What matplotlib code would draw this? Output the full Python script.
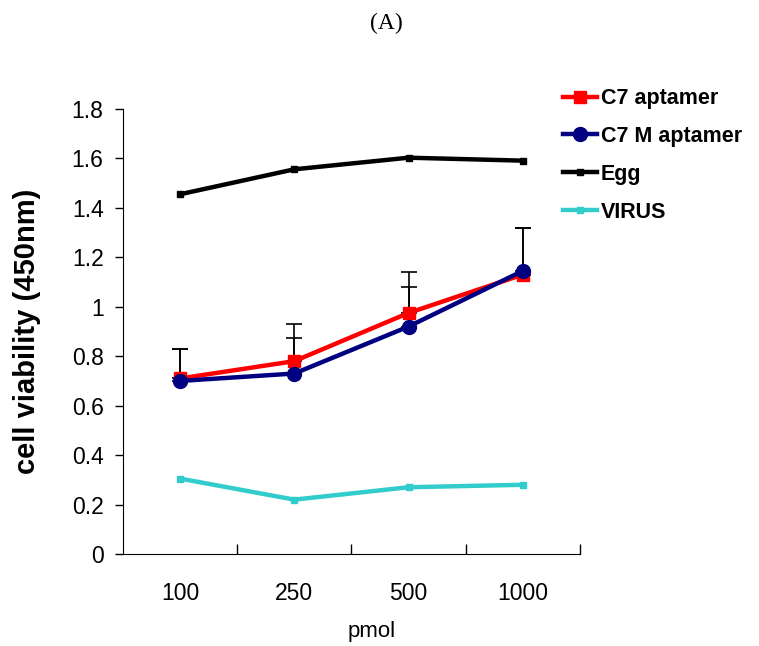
import matplotlib
matplotlib.use("Agg")
import matplotlib.pyplot as plt
import numpy as np

categories = ["100", "250", "500", "1000"]
c7 = [0.71, 0.78, 0.975, 1.13]
c7_err = [0.12, 0.15, 0.164, 0.19]
c7m = [0.70, 0.73, 0.92, 1.145]
c7m_err = [0.13, 0.144, 0.16, 0.175]
egg = [1.455, 1.556, 1.603, 1.591]
virus = [0.305, 0.22, 0.27, 0.28]

plt.rcParams["font.family"] = ["Liberation Sans", "DejaVu Sans"]

fig = plt.figure(figsize=(7.59, 6.46), dpi=100)
ax = fig.add_axes([0.162, 0.1424, 0.602, 0.6889])

x = np.arange(len(categories))

ax.errorbar(x, c7, yerr=[np.zeros(4), c7_err], fmt="none", ecolor="black",
            elinewidth=1.2, capsize=6, capthick=1.2, zorder=2)
ax.errorbar(x, c7m, yerr=[np.zeros(4), c7m_err], fmt="none", ecolor="black",
            elinewidth=1.2, capsize=6, capthick=1.2, zorder=2)

ax.plot(x, c7, color="#ff0000", lw=3.2, marker="s", ms=9, label="C7 aptamer", zorder=3)
ax.plot(x, c7m, color="#000080", lw=3.2, marker="o", ms=10, label="C7 M aptamer", zorder=4)
ax.plot(x, egg, color="black", lw=3.2, marker="s", ms=4, label="Egg", zorder=3)
ax.plot(x, virus, color="#33cccc", lw=3.2, marker="s", ms=4, label="VIRUS", zorder=3)

ax.set_xlim(-0.5, 3.5)
ax.set_ylim(0, 1.8)
ax.set_yticks(np.arange(0, 1.81, 0.2))
ax.set_yticklabels(["0", "0.2", "0.4", "0.6", "0.8", "1", "1.2", "1.4", "1.6", "1.8"])
ax.set_xticks([0.5, 1.5, 2.5, 3.5])
ax.set_xticklabels([])
ax.set_xticks(x, minor=True)
ax.set_xticklabels(categories, minor=True)
ax.tick_params(axis="x", which="major", direction="in", length=7, width=1)
ax.tick_params(axis="x", which="minor", length=0, pad=20, labelsize=16.5)
ax.tick_params(axis="y", direction="out", length=6, width=1, pad=8, labelsize=16.5)

for s in ["top", "right"]:
    ax.spines[s].set_visible(False)

ax.set_ylabel("cell viability (450nm)", fontsize=21, fontweight="bold", labelpad=22)
fig.text(372 / 759, 1 - 631 / 646, "pmol", fontsize=16, ha="center", va="center")

fig.text(386 / 759, 0.963, "(A)", family="Liberation Serif", fontsize=17,
         ha="center", va="center")

leg = ax.legend(loc="upper left", bbox_to_anchor=(0.944, 1.066), frameon=False,
                prop={"size": 15.5, "weight": "bold"}, handlelength=1.6,
                handletextpad=0.15, labelspacing=0.78, borderaxespad=0)

fig.savefig("out.png", dpi=100)
